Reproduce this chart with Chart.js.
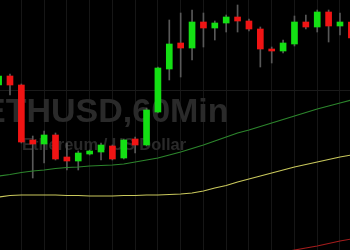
<!DOCTYPE html>
<html>
<head>
<meta charset="utf-8">
<script src="https://cdn.jsdelivr.net/npm/chart.js@4.4.0/dist/chart.umd.min.js"></script>
<style>
  html, body { margin: 0; padding: 0; background: #000; }
  canvas { display: block; }
</style>
</head>
<body>
<canvas id="myChart" width="350" height="250"></canvas>
<script>
// hourly ETHUSD candles
let opens  = [1833.0, 1834.8, 1833.0, 1822.0, 1821.2, 1823.0, 1818.6, 1817.8, 1819.2, 1819.6, 1820.8, 1818.4, 1822.2, 1821.0, 1827.6, 1836.2,
              1841.4, 1840.4, 1845.6, 1844.4, 1845.4, 1846.6, 1845.8, 1844.2, 1840.2, 1839.8, 1841.2, 1845.6, 1844.6, 1847.6, 1844.8, 1845.6];
let highs  = [1835.4, 1835.2, 1833.2, 1822.8, 1823.8, 1823.4, 1821.4, 1819.8, 1820.0, 1821.4, 1821.0, 1822.2, 1822.6, 1828.4, 1836.6, 1846.0,
              1847.4, 1848.0, 1847.4, 1845.8, 1847.0, 1849.0, 1846.2, 1844.6, 1840.6, 1842.0, 1846.8, 1847.0, 1848.0, 1848.0, 1847.4, 1846.0];
let lows   = [1832.4, 1831.0, 1821.4, 1814.4, 1817.4, 1818.0, 1816.0, 1816.0, 1819.0, 1818.0, 1818.0, 1818.2, 1819.4, 1820.8, 1827.4, 1834.0,
              1834.6, 1838.0, 1840.6, 1842.0, 1843.6, 1843.6, 1843.8, 1836.6, 1837.4, 1839.4, 1840.8, 1844.2, 1843.6, 1841.6, 1843.0, 1842.0];
let closes = [1834.8, 1833.0, 1821.6, 1821.2, 1823.0, 1818.2, 1817.8, 1819.4, 1819.8, 1821.0, 1818.2, 1822.0, 1821.0, 1828.0, 1836.4, 1841.2,
              1840.4, 1845.6, 1844.4, 1845.4, 1846.6, 1845.8, 1844.2, 1840.2, 1839.8, 1841.4, 1845.6, 1844.6, 1847.6, 1844.8, 1845.6, 1842.4];

// moving averages
let maGreen  = [1814.8, 1815.1, 1815.5, 1815.8, 1816.0, 1816.3, 1816.5, 1816.6, 1816.8, 1816.9, 1817.0, 1817.2, 1817.6, 1818.0, 1818.4, 1819.0,
                1819.6, 1820.3, 1821.0, 1821.8, 1822.6, 1823.4, 1824.0, 1824.7, 1825.4, 1826.1, 1826.8, 1827.5, 1828.2, 1828.8, 1829.4, 1830.0];
let maYellow = [1810.6, 1810.9, 1811.0, 1811.0, 1811.0, 1811.0, 1810.9, 1810.9, 1810.8, 1810.8, 1810.8, 1810.9, 1810.9, 1811.0, 1811.0, 1811.1,
                1811.2, 1811.4, 1811.8, 1812.4, 1812.9, 1813.6, 1814.2, 1814.8, 1815.4, 1816.0, 1816.6, 1817.1, 1817.6, 1818.1, 1818.6, 1819.0];
let maRed    = [null, null, null, null, null, null, null, null, null, null, null, null, null, null, null, null,
                null, null, null, null, null, null, null, null, null, 1799.5, 1800.0, 1800.4, 1800.8, 1801.3, 1801.8, 1802.2];

let gridPrices = [1832];
let title = 'ETHUSD,60Min';
let subtitle = 'Ethereum / US Dollar';

const upColor = '#14e014';
const downColor = '#f01414';

let candleColors = opens.map((o, i) => closes[i] >= o ? upColor : downColor);
let bodies = opens.map((o, i) => ({x: i, y: [o, closes[i]]}));
let wicks = opens.map((o, i) => ({x: i, y: [lows[i], highs[i]]}));
let toPoints = arr => arr.map((v, i) => ({x: i, y: v}));

const watermark = {
  id: 'watermark',
  beforeDatasetsDraw: (chart) => {
    const c = chart.ctx;
    c.save();
    c.fillStyle = '#2a2a2a';
    c.textBaseline = 'alphabetic';
    c.font = 'bold 34px "Liberation Sans", Arial, sans-serif';
    c.fillText(title, -17, 122);
    c.font = 'bold 16.5px "Liberation Sans", Arial, sans-serif';
    c.fillText(subtitle, 22, 150);
    c.restore();
  }
};

var ctx = document.getElementById('myChart').getContext('2d');
new Chart(ctx, {
  type: 'bar',
  data: {
    datasets: [
      {
        type: 'line', data: toPoints(maRed), borderColor: '#a31c1c', borderWidth: 1.2,
        pointRadius: 0, tension: 0, order: 1
      },
      {
        type: 'line', data: toPoints(maYellow), borderColor: '#c9c85c', borderWidth: 1.2,
        pointRadius: 0, tension: 0, order: 1
      },
      {
        type: 'line', data: toPoints(maGreen), borderColor: '#2c852c', borderWidth: 1.2,
        pointRadius: 0, tension: 0, order: 1
      },
      {
        data: bodies, backgroundColor: candleColors, barThickness: 6, grouped: false,
        borderWidth: 0, borderSkipped: false, order: 2
      },
      {
        data: wicks, backgroundColor: '#585858', barThickness: 1, grouped: false,
        borderWidth: 0, borderSkipped: false, order: 3
      }
    ]
  },
  options: {
    responsive: false,
    animation: false,
    layout: { padding: 0 },
    plugins: { legend: { display: false }, tooltip: { enabled: false } },
    scales: {
      x: {
        type: 'linear', min: 0.123, max: 30.88, offset: false,
        ticks: { display: false },
        border: { display: false },
        grid: { color: '#161616', drawTicks: false },
        afterBuildTicks: s => { s.ticks = opens.map((_, i) => ({value: i})).filter(t => t.value % 2 === 1); },
        afterFit: s => { s.height = 0; }
      },
      y: {
        min: 1800, max: 1850,
        ticks: { display: false },
        border: { display: false },
        grid: { color: '#1a1a1a', drawTicks: false },
        afterBuildTicks: s => { s.ticks = gridPrices.map(v => ({value: v})); },
        afterFit: s => { s.width = 0; }
      }
    }
  },
  plugins: [watermark]
});
</script>
</body>
</html>
